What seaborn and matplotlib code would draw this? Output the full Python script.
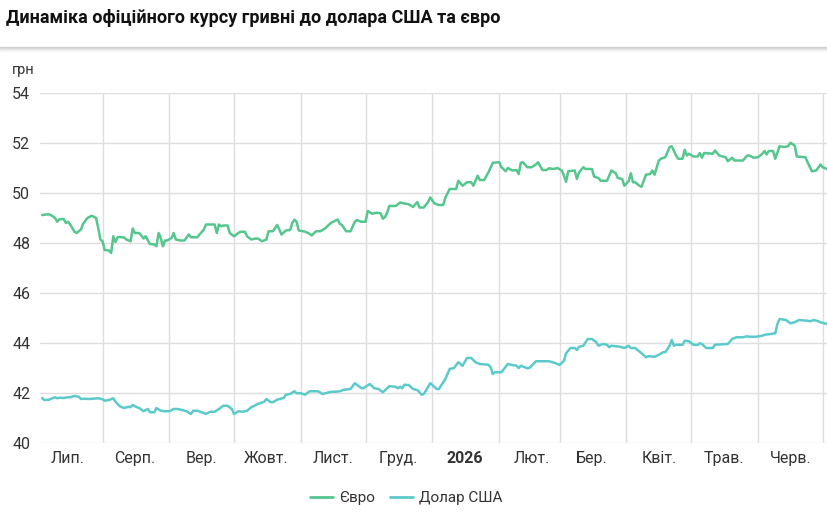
import pandas as pd
import seaborn as sns
import matplotlib.pyplot as plt
from matplotlib.lines import Line2D

# Офіційний курс НБУ, грн
euro_dates = [
    '2025-07-04', '2025-07-07', '2025-07-08', '2025-07-10', '2025-07-11', '2025-07-12', '2025-07-14', '2025-07-15',
    '2025-07-16', '2025-07-17', '2025-07-19', '2025-07-20', '2025-07-22', '2025-07-23', '2025-07-25', '2025-07-27',
    '2025-07-29', '2025-07-30', '2025-07-31', '2025-08-01', '2025-08-02', '2025-08-04', '2025-08-05', '2025-08-06',
    '2025-08-07', '2025-08-08', '2025-08-09', '2025-08-11', '2025-08-12', '2025-08-14', '2025-08-15', '2025-08-16',
    '2025-08-18', '2025-08-19', '2025-08-20', '2025-08-21', '2025-08-23', '2025-08-25', '2025-08-26', '2025-08-27',
    '2025-08-28', '2025-08-29', '2025-08-30', '2025-08-31', '2025-09-02', '2025-09-03', '2025-09-04', '2025-09-06',
    '2025-09-08', '2025-09-10', '2025-09-11', '2025-09-14', '2025-09-15', '2025-09-17', '2025-09-18', '2025-09-22',
    '2025-09-23', '2025-09-24', '2025-09-25', '2025-09-26', '2025-09-28', '2025-09-29', '2025-10-01', '2025-10-03',
    '2025-10-04', '2025-10-06', '2025-10-07', '2025-10-09', '2025-10-11', '2025-10-12', '2025-10-14', '2025-10-16',
    '2025-10-17', '2025-10-19', '2025-10-21', '2025-10-22', '2025-10-23', '2025-10-25', '2025-10-27', '2025-10-28',
    '2025-10-29', '2025-10-30', '2025-10-31', '2025-11-02', '2025-11-03', '2025-11-05', '2025-11-06', '2025-11-08',
    '2025-11-10', '2025-11-12', '2025-11-15', '2025-11-16', '2025-11-18', '2025-11-19', '2025-11-20', '2025-11-22',
    '2025-11-24', '2025-11-26', '2025-11-27', '2025-11-29', '2025-12-01', '2025-12-02', '2025-12-04', '2025-12-06',
    '2025-12-08', '2025-12-09', '2025-12-10', '2025-12-11', '2025-12-12', '2025-12-15', '2025-12-17', '2025-12-19',
    '2025-12-21', '2025-12-23', '2025-12-25', '2025-12-26', '2025-12-28', '2025-12-30', '2025-12-31', '2026-01-02',
    '2026-01-04', '2026-01-06', '2026-01-07', '2026-01-09', '2026-01-12', '2026-01-13', '2026-01-15', '2026-01-17',
    '2026-01-19', '2026-01-20', '2026-01-22', '2026-01-23', '2026-01-25', '2026-01-27', '2026-01-29', '2026-02-01',
    '2026-02-02', '2026-02-04', '2026-02-05', '2026-02-07', '2026-02-09', '2026-02-10', '2026-02-11', '2026-02-12',
    '2026-02-14', '2026-02-16', '2026-02-18', '2026-02-19', '2026-02-21', '2026-02-23', '2026-02-24', '2026-02-26',
    '2026-02-28', '2026-03-02', '2026-03-03', '2026-03-04', '2026-03-05', '2026-03-08', '2026-03-09', '2026-03-10',
    '2026-03-12', '2026-03-13', '2026-03-16', '2026-03-17', '2026-03-19', '2026-03-20', '2026-03-23', '2026-03-24',
    '2026-03-25', '2026-03-27', '2026-03-28', '2026-03-30', '2026-03-31', '2026-04-02', '2026-04-03', '2026-04-04',
    '2026-04-05', '2026-04-07', '2026-04-08', '2026-04-10', '2026-04-12', '2026-04-13', '2026-04-14', '2026-04-16',
    '2026-04-17', '2026-04-19', '2026-04-21', '2026-04-22', '2026-04-24', '2026-04-25', '2026-04-27', '2026-04-28',
    '2026-04-29', '2026-04-30', '2026-05-02', '2026-05-04', '2026-05-05', '2026-05-06', '2026-05-07', '2026-05-11',
    '2026-05-12', '2026-05-14', '2026-05-17', '2026-05-18', '2026-05-20', '2026-05-21', '2026-05-25', '2026-05-27',
    '2026-05-28', '2026-05-30', '2026-06-01', '2026-06-03', '2026-06-04', '2026-06-05', '2026-06-06', '2026-06-08',
    '2026-06-09', '2026-06-11', '2026-06-13', '2026-06-15', '2026-06-16', '2026-06-18', '2026-06-19', '2026-06-23',
    '2026-06-24', '2026-06-26', '2026-06-28', '2026-06-30', '2026-07-01', '2026-07-03',
]
euro_values = [
    49.12, 49.15, 49.12, 49.00, 48.85, 48.95, 48.96, 48.80,
    48.85, 48.74, 48.45, 48.40, 48.54, 48.77, 49.00, 49.09,
    49.00, 48.60, 48.14, 48.07, 47.72, 47.70, 47.60, 48.27,
    48.04, 48.23, 48.24, 48.22, 48.14, 48.07, 48.58, 48.40,
    48.40, 48.30, 48.18, 48.27, 47.96, 47.94, 47.87, 48.40,
    48.20, 47.87, 48.10, 48.10, 48.20, 48.40, 48.14, 48.10,
    48.10, 48.34, 48.23, 48.23, 48.34, 48.54, 48.74, 48.74,
    48.40, 48.74, 48.67, 48.70, 48.70, 48.40, 48.27, 48.40,
    48.45, 48.45, 48.27, 48.14, 48.18, 48.18, 48.07, 48.14,
    48.47, 48.47, 48.72, 48.54, 48.34, 48.50, 48.52, 48.80,
    48.93, 48.85, 48.50, 48.47, 48.45, 48.37, 48.30, 48.47,
    48.47, 48.57, 48.81, 48.85, 48.94, 48.77, 48.72, 48.47,
    48.47, 48.85, 48.92, 48.85, 48.85, 49.28, 49.17, 49.21,
    49.19, 48.97, 49.04, 49.21, 49.48, 49.48, 49.62, 49.58,
    49.55, 49.44, 49.64, 49.42, 49.42, 49.64, 49.82, 49.58,
    49.52, 49.52, 49.82, 50.16, 50.16, 50.49, 50.29, 50.43,
    50.43, 50.29, 50.69, 50.52, 50.52, 50.83, 51.21, 51.23,
    51.03, 50.87, 51.00, 50.90, 50.92, 50.76, 51.21, 51.23,
    51.03, 51.03, 51.14, 51.23, 50.92, 50.92, 50.99, 50.96,
    51.00, 50.90, 50.69, 50.45, 50.87, 50.90, 50.56, 50.83,
    51.03, 50.96, 50.96, 50.65, 50.60, 50.49, 50.49, 50.69,
    50.90, 50.79, 50.60, 50.56, 50.29, 50.47, 50.79, 50.43,
    50.43, 50.29, 50.25, 50.73, 50.76, 50.90, 50.73, 51.30,
    51.37, 51.43, 51.84, 51.87, 51.50, 51.37, 51.37, 51.73,
    51.50, 51.57, 51.46, 51.46, 51.60, 51.41, 51.60, 51.57,
    51.70, 51.50, 51.43, 51.27, 51.41, 51.30, 51.30, 51.50,
    51.50, 51.41, 51.43, 51.57, 51.68, 51.54, 51.68, 51.68,
    51.37, 51.87, 51.84, 51.87, 52.01, 51.90, 51.46, 51.43,
    51.23, 50.87, 50.90, 51.14, 51.03, 50.96,
]

usd_dates = [
    '2025-07-04', '2025-07-05', '2025-07-07', '2025-07-10', '2025-07-11', '2025-07-12', '2025-07-14', '2025-07-16',
    '2025-07-17', '2025-07-19', '2025-07-21', '2025-07-22', '2025-07-23', '2025-07-26', '2025-07-30', '2025-08-01',
    '2025-08-02', '2025-08-04', '2025-08-06', '2025-08-07', '2025-08-09', '2025-08-11', '2025-08-13', '2025-08-14',
    '2025-08-15', '2025-08-17', '2025-08-18', '2025-08-20', '2025-08-22', '2025-08-23', '2025-08-25', '2025-08-26',
    '2025-08-28', '2025-08-30', '2025-09-01', '2025-09-03', '2025-09-05', '2025-09-08', '2025-09-09', '2025-09-11',
    '2025-09-12', '2025-09-14', '2025-09-16', '2025-09-18', '2025-09-20', '2025-09-22', '2025-09-24', '2025-09-26',
    '2025-09-28', '2025-09-30', '2025-10-01', '2025-10-03', '2025-10-05', '2025-10-07', '2025-10-09', '2025-10-12',
    '2025-10-13', '2025-10-15', '2025-10-16', '2025-10-18', '2025-10-19', '2025-10-21', '2025-10-22', '2025-10-24',
    '2025-10-25', '2025-10-27', '2025-10-29', '2025-10-30', '2025-11-01', '2025-11-03', '2025-11-05', '2025-11-09',
    '2025-11-11', '2025-11-15', '2025-11-17', '2025-11-19', '2025-11-21', '2025-11-24', '2025-11-26', '2025-11-29',
    '2025-11-30', '2025-12-03', '2025-12-05', '2025-12-07', '2025-12-09', '2025-12-12', '2025-12-15', '2025-12-16',
    '2025-12-17', '2025-12-18', '2025-12-19', '2025-12-21', '2025-12-23', '2025-12-25', '2025-12-27', '2025-12-28',
    '2025-12-31', '2026-01-03', '2026-01-04', '2026-01-07', '2026-01-09', '2026-01-11', '2026-01-13', '2026-01-15',
    '2026-01-17', '2026-01-19', '2026-01-21', '2026-01-23', '2026-01-27', '2026-01-28', '2026-01-29', '2026-01-30',
    '2026-02-02', '2026-02-05', '2026-02-07', '2026-02-09', '2026-02-10', '2026-02-11', '2026-02-14', '2026-02-15',
    '2026-02-18', '2026-02-21', '2026-02-24', '2026-02-27', '2026-03-01', '2026-03-03', '2026-03-04', '2026-03-06',
    '2026-03-08', '2026-03-09', '2026-03-10', '2026-03-12', '2026-03-14', '2026-03-16', '2026-03-18', '2026-03-19',
    '2026-03-21', '2026-03-23', '2026-03-24', '2026-03-25', '2026-03-29', '2026-03-31', '2026-04-02', '2026-04-03',
    '2026-04-05', '2026-04-08', '2026-04-10', '2026-04-11', '2026-04-14', '2026-04-16', '2026-04-18', '2026-04-19',
    '2026-04-21', '2026-04-22', '2026-04-23', '2026-04-24', '2026-04-27', '2026-04-28', '2026-04-30', '2026-05-02',
    '2026-05-04', '2026-05-05', '2026-05-06', '2026-05-08', '2026-05-11', '2026-05-12', '2026-05-18', '2026-05-20',
    '2026-05-22', '2026-05-25', '2026-05-27', '2026-05-28', '2026-05-31', '2026-06-03', '2026-06-04', '2026-06-07',
    '2026-06-09', '2026-06-10', '2026-06-11', '2026-06-14', '2026-06-16', '2026-06-18', '2026-06-20', '2026-06-24',
    '2026-06-25', '2026-06-27', '2026-06-29', '2026-06-30', '2026-07-03',
]
usd_values = [
    41.80, 41.72, 41.73, 41.83, 41.79, 41.81, 41.80, 41.83,
    41.83, 41.88, 41.85, 41.76, 41.77, 41.76, 41.79, 41.75,
    41.69, 41.72, 41.79, 41.65, 41.47, 41.40, 41.45, 41.43,
    41.52, 41.43, 41.40, 41.27, 41.36, 41.23, 41.23, 41.40,
    41.29, 41.27, 41.27, 41.36, 41.36, 41.29, 41.27, 41.16,
    41.29, 41.29, 41.23, 41.16, 41.25, 41.25, 41.36, 41.49,
    41.49, 41.36, 41.16, 41.27, 41.25, 41.29, 41.43, 41.56,
    41.59, 41.65, 41.76, 41.63, 41.63, 41.73, 41.76, 41.80,
    41.93, 41.96, 42.07, 41.99, 41.99, 41.93, 42.07, 42.07,
    41.96, 42.05, 42.05, 42.07, 42.13, 42.16, 42.39, 42.20,
    42.19, 42.36, 42.19, 42.16, 42.03, 42.27, 42.25, 42.19,
    42.25, 42.19, 42.33, 42.32, 42.16, 42.12, 41.93, 41.96,
    42.39, 42.16, 42.16, 42.56, 42.96, 43.00, 43.23, 43.09,
    43.40, 43.40, 43.23, 43.16, 43.13, 43.03, 42.76, 42.83,
    42.83, 43.16, 43.12, 43.09, 43.00, 43.09, 42.99, 43.00,
    43.27, 43.27, 43.27, 43.20, 43.12, 43.29, 43.59, 43.80,
    43.80, 43.72, 43.85, 43.89, 44.16, 44.16, 44.03, 43.89,
    43.96, 43.93, 43.83, 43.89, 43.85, 43.80, 43.89, 43.80,
    43.80, 43.59, 43.43, 43.47, 43.45, 43.53, 43.63, 43.63,
    43.89, 44.12, 43.89, 43.93, 43.93, 44.09, 44.07, 43.93,
    43.92, 43.99, 43.96, 43.80, 43.80, 43.93, 43.96, 44.16,
    44.23, 44.23, 44.27, 44.25, 44.25, 44.29, 44.33, 44.36,
    44.39, 44.76, 44.96, 44.92, 44.79, 44.83, 44.92, 44.89,
    44.87, 44.92, 44.87, 44.83, 44.76,
]

series_names = ['Євро', 'Долар США']
series_colors = ['#55c68d', '#5ccaca']
month_labels = ['Лип.', 'Серп.', 'Вер.', 'Жовт.', 'Лист.', 'Груд.', '2026',
                'Лют.', 'Бер.', 'Квіт.', 'Трав.', 'Черв.']
y_ticks = [40, 42, 44, 46, 48, 50, 52, 54]

euro = pd.DataFrame({'date': pd.to_datetime(euro_dates), 'value': euro_values, 'series': series_names[0]})
usd = pd.DataFrame({'date': pd.to_datetime(usd_dates), 'value': usd_values, 'series': series_names[1]})
data = pd.concat([euro, usd], ignore_index=True)

sns.set_theme(style='white')
plt.rcParams['font.family'] = ['Roboto', 'DejaVu Sans']

fig = plt.figure(figsize=(8.27, 5.22), dpi=100)
ax = fig.add_axes([40 / 827, 1 - 443 / 522, 787 / 827, 350 / 522])

sns.lineplot(data=data, x='date', y='value', hue='series', hue_order=series_names,
             palette=series_colors, linewidth=1.8, ax=ax, legend=False)

ax.set_xlim(pd.Timestamp('2025-07-03'), pd.Timestamp('2026-07-03'))
ax.set_ylim(40, 54)
ax.set_xlabel('')
ax.set_ylabel('')

# вертикальні лінії на початку місяців, підписи посередині місяця
month_starts = pd.date_range('2025-08-01', '2026-07-01', freq='MS')
month_mids = pd.date_range('2025-07-01', periods=12, freq='MS') + pd.Timedelta(days=15)
ax.set_xticks(month_starts)
ax.set_xticklabels([''] * len(month_starts))
ax.set_xticks(month_mids, minor=True)
ax.set_xticklabels(month_labels, minor=True)
ax.get_xticklabels(minor=True)[6].set_fontweight('bold')

ax.set_yticks(y_ticks)
ax.set_yticklabels([str(t) for t in y_ticks])

ax.tick_params(axis='x', which='both', length=0, labelsize=11.5, labelcolor='#333333', pad=6)
ax.tick_params(axis='y', length=0, labelsize=11.5, labelcolor='#333333', pad=7)
ax.grid(True, which='major', axis='both', color='#dedede', linewidth=1)
for s in ax.spines.values():
    s.set_visible(False)

# заголовок і тінь під шапкою
fig.text(6 / 827, 1 - 18 / 522, 'Динаміка офіційного курсу гривні до долара США та євро',
         fontsize=13, fontweight='bold', color='#111111', va='center', ha='left')
for i, a in enumerate([0.55, 0.35, 0.22, 0.12, 0.06]):
    y = 1 - (47 + i) / 522
    fig.add_artist(Line2D([0, 1], [y, y], transform=fig.transFigure, color='#b0b0b0', alpha=a, lw=1))

fig.text(12 / 827, 1 - 70 / 522, 'грн', fontsize=10.5, color='#333333', va='center', ha='left')

handles = [Line2D([0], [0], color=c, lw=2) for c in series_colors]
fig.legend(handles, series_names, loc='center', bbox_to_anchor=(406 / 827, 1 - 498 / 522),
           ncol=2, frameon=False, fontsize=11, handlelength=1.5, handletextpad=0.4,
           columnspacing=1.0, labelcolor='#333333')

plt.savefig('out.png', dpi=100)
